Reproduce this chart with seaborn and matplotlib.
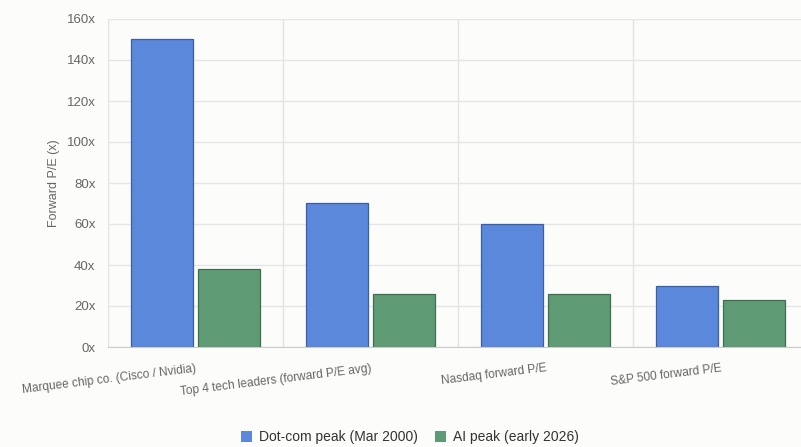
import numpy as np
import pandas as pd
import seaborn as sns
import matplotlib.pyplot as plt
from matplotlib.patches import Patch

categories = ["Marquee chip co. (Cisco / Nvidia)", "Top 4 tech leaders (forward P/E avg)",
              "Nasdaq forward P/E", "S&P 500 forward P/E"]
dotcom = [150, 70, 60, 30]
ai_peak = [38, 26, 26, 23]
series = ["Dot-com peak (Mar 2000)", "AI peak (early 2026)"]
colors = ["#5b88da", "#5e9b75"]
edges = ["#3b5fa6", "#3f6d50"]

df = pd.DataFrame({
    "category": categories * 2,
    "value": dotcom + ai_peak,
    "series": [series[0]] * 4 + [series[1]] * 4,
})

sns.set_style("white")
plt.rcParams['font.family'] = ['Liberation Sans', 'DejaVu Sans']

fig = plt.figure(figsize=(8.01, 4.47), dpi=100, facecolor="#fcfcfb")
ax = fig.add_axes([108 / 801, 100 / 447, 700 / 801, 328 / 447])
ax.set_facecolor("#fcfcfb")

sns.barplot(data=df, x="category", y="value", hue="series", palette=colors,
            width=0.77, gap=0.08, ax=ax, legend=False, saturation=1)

for i, cont in enumerate(ax.containers):
    for p in cont:
        p.set_edgecolor(edges[i])
        p.set_linewidth(0.9)

ax.set_xlim(-0.5, 3.5)
ax.set_ylim(0, 160)
yt = np.arange(0, 161, 20)
ax.set_yticks(yt)
ax.set_yticklabels([f"{v}x" for v in yt], color="#666666", fontsize=9.5)
ax.tick_params(axis="y", length=7, color="#e3e3e3", width=1, pad=2)
ax.grid(axis="y", color="#e6e6e6", linewidth=1)
ax.set_axisbelow(True)

# category boundaries as vertical gridlines
ax.set_xticks([-0.5, 0.5, 1.5, 2.5], minor=True)
ax.grid(axis="x", which="minor", color="#e3e3e3", linewidth=1)
ax.tick_params(axis="x", which="minor", length=8, color="#e3e3e3", width=1)
ax.set_xticks(range(4))
ax.set_xticklabels(categories, rotation=7, ha="right", rotation_mode="anchor",
                   color="#666666", fontsize=8.6)
ax.tick_params(axis="x", which="major", length=0, pad=11)

for s in ["top", "right", "left"]:
    ax.spines[s].set_visible(False)
ax.spines["bottom"].set_color("#cccccc")
ax.set_xlabel("")
ax.set_ylabel("Forward P/E (x)", color="#666666", fontsize=9, labelpad=5)

handles = [Patch(facecolor=c, edgecolor="none", label=s) for c, s in zip(colors, series)]
fig.legend(handles=handles, loc="lower center", bbox_to_anchor=(0.512, -0.022), ncol=2,
           frameon=False, fontsize=10, handlelength=0.8, handleheight=0.8,
           handletextpad=0.5, columnspacing=1.2, labelcolor="#333333")

fig.savefig("out.png", dpi=100, facecolor=fig.get_facecolor())
